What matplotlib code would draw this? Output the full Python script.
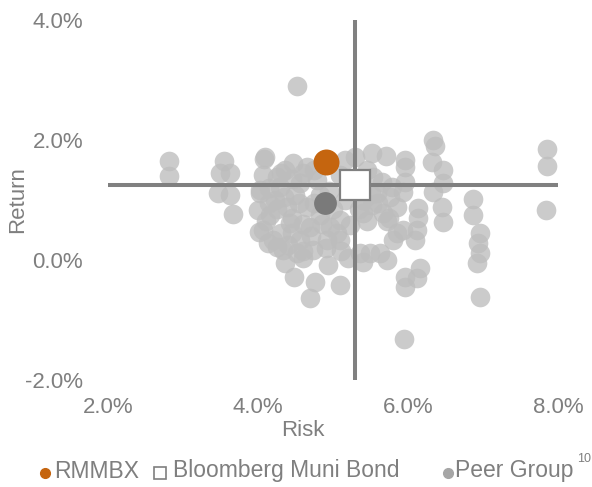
import matplotlib
matplotlib.use("Agg")
import matplotlib.pyplot as plt
from matplotlib.lines import Line2D

# Peer group funds: risk (%), return (%)
peer_risk = [
    4.52, 2.81, 2.81, 3.55, 3.49, 3.63, 3.47, 3.63, 3.67, 4.08,
    4.07, 4.03, 4.00, 4.01, 4.13, 4.25, 5.29, 5.52, 5.71, 5.96,
    5.96, 5.96, 5.93, 6.33, 6.36, 6.32, 6.47, 6.47, 6.33, 6.45,
    6.47, 6.87, 6.87, 6.96, 6.93, 6.96, 6.92, 6.96, 7.85, 7.85,
    7.84, 6.13, 6.13, 6.12, 6.09, 5.80, 5.72, 5.49, 5.40, 6.16,
    5.96, 6.12, 5.96, 5.95, 5.09, 4.76, 4.69, 4.48, 4.36, 4.93,
    5.20, 4.60, 5.40, 5.59, 5.76, 5.67, 5.40, 5.85, 5.53, 5.79,
    5.93, 5.85, 4.09, 4.47, 4.25, 4.65, 4.03, 4.07, 4.20, 4.33,
    4.52, 4.73, 4.92, 4.96, 4.39, 4.65, 4.43, 4.69, 4.29, 4.56,
    4.79, 5.09, 5.09, 4.23, 4.49, 4.36, 4.83, 5.09, 5.16, 4.16,
    4.83, 4.56, 5.23, 5.16, 5.72, 5.36, 5.63, 5.52, 5.36, 4.30,
    4.45, 4.60, 4.75, 4.15, 4.35, 4.55, 4.75, 4.95, 5.00, 4.25,
    4.45, 4.60, 4.85, 5.05, 4.30, 4.45, 4.70, 4.90, 4.40, 4.60,
    5.10, 4.15, 4.10, 5.45, 5.60, 5.75, 5.50, 5.65, 5.35, 5.45,
]
peer_return = [
    2.90, 1.65, 1.40, 1.65, 1.45, 1.45, 1.12, 1.08, 0.77, 1.68,
    1.42, 1.12, 0.83, 0.47, 0.28, 0.22, 1.72, 1.78, 1.73, 1.67,
    1.55, 1.30, 1.13, 2.00, 1.90, 1.63, 1.50, 1.28, 1.13, 0.88,
    0.63, 1.02, 0.75, 0.45, 0.28, 0.12, -0.05, -0.62, 1.85, 1.57,
    0.83, 0.87, 0.70, 0.50, 0.33, 0.33, 0.00, 0.12, -0.03, -0.13,
    -0.28, -0.30, -0.45, -1.32, -0.42, -0.37, -0.63, -0.28, -0.05, -0.08,
    0.03, 0.03, 1.00, 1.12, 1.05, 0.78, 0.78, 0.88, 1.38, 1.22,
    0.50, 0.45, 1.72, 1.62, 1.38, 1.55, 1.17, 0.50, 0.33, 0.17,
    0.12, 0.17, 0.33, 0.55, 0.88, 0.88, 0.62, 0.55, 1.22, 1.28,
    1.33, 0.67, 0.33, 1.00, 1.08, 1.50, 1.08, 1.42, 1.00, 0.75,
    0.75, 0.33, 0.58, 1.67, 0.65, 0.12, 0.12, 0.92, 1.25, 1.45,
    1.35, 1.45, 1.50, 1.20, 1.05, 0.95, 0.95, 1.15, 0.85, 0.85,
    0.70, 0.60, 0.60, 0.45, 0.45, 0.45, 0.40, 0.20, 0.25, 0.15,
    0.15, 0.95, 0.65, 0.65, 0.95, 0.70, 1.10, 1.30, 0.85, 1.50,
]

fund_risk, fund_return = 4.91, 1.63          # RMMBX
peer_avg_risk, peer_avg_return = 4.89, 0.95  # Peer group average
bench_risk, bench_return = 5.29, 1.25        # Bloomberg Muni Bond

x_ticks = [2, 4, 6, 8]
y_ticks = [-2, 0, 2, 4]

TEXT = "#7f7f7f"
LINE = "#808080"
ORANGE = "#c5650f"

plt.rcParams["font.family"] = ["Liberation Sans", "DejaVu Sans"]

fig = plt.figure(figsize=(5.92, 4.87), dpi=100)
ax = fig.add_axes([108 / 592, 107 / 487, 450 / 592, 360 / 487])

ax.scatter(peer_risk, peer_return, s=200, color="#bdbdbd", alpha=0.78,
           linewidths=0, zorder=2)

# crosshair through the benchmark
ax.plot([x_ticks[0], x_ticks[-1]], [bench_return, bench_return],
        color=LINE, lw=2.9, zorder=3, solid_capstyle="butt")
ax.plot([bench_risk, bench_risk], [y_ticks[0], y_ticks[-1]],
        color=LINE, lw=2.9, zorder=3, solid_capstyle="butt")

ax.scatter([peer_avg_risk], [peer_avg_return], s=270, color="#7a7a7a",
           linewidths=0, zorder=4)
ax.scatter([fund_risk], [fund_return], s=350, color=ORANGE,
           linewidths=0, zorder=4)
ax.plot([bench_risk], [bench_return], marker="s", markersize=21,
        markerfacecolor="white", markeredgecolor=LINE, markeredgewidth=1.6,
        zorder=5)

ax.set_xlim(2, 8)
ax.set_ylim(-2, 4)
ax.set_xticks(x_ticks)
ax.set_yticks(y_ticks)
ax.set_xticklabels([f"{v:.1f}%" for v in x_ticks])
ax.set_yticklabels([f"{v:.1f}%" for v in y_ticks])
ax.tick_params(length=0, labelsize=16, labelcolor=TEXT)
ax.tick_params(axis="x", pad=12)
ax.tick_params(axis="y", pad=18)
for s in ax.spines.values():
    s.set_visible(False)

fig.text(303 / 592, 1 - 430 / 487, "Risk", ha="center", va="center",
         fontsize=16, color=TEXT)
fig.text(18 / 592, 1 - 200 / 487, "Return", ha="center", va="center",
         rotation=90, fontsize=16, color=TEXT)

# legend drawn by hand
ly = 1 - 471 / 487
fig.add_artist(Line2D([45 / 592], [ly - 0.004], marker="o", markersize=7,
                      color=ORANGE, lw=0, transform=fig.transFigure))
fig.text(54 / 592, ly, "RMMBX", ha="left", va="center", fontsize=16.5,
         color=TEXT)
fig.add_artist(Line2D([160 / 592], [ly - 0.004], marker="s", markersize=9,
                      markerfacecolor="white", markeredgecolor=TEXT,
                      markeredgewidth=1.2, lw=0, transform=fig.transFigure))
fig.text(173 / 592, ly, "Bloomberg Muni Bond", ha="left", va="center",
         fontsize=16.5, color=TEXT)
fig.add_artist(Line2D([448 / 592], [ly - 0.004], marker="o", markersize=7,
                      color="#a6a6a6", lw=0, transform=fig.transFigure))
fig.text(455 / 592, ly, "Peer Group", ha="left", va="center", fontsize=16.5,
         color=TEXT)
fig.text(577 / 592, 1 - 459 / 487, "10", ha="left", va="center", fontsize=9,
         color=TEXT)

fig.savefig("out.png", dpi=100, facecolor="white")
